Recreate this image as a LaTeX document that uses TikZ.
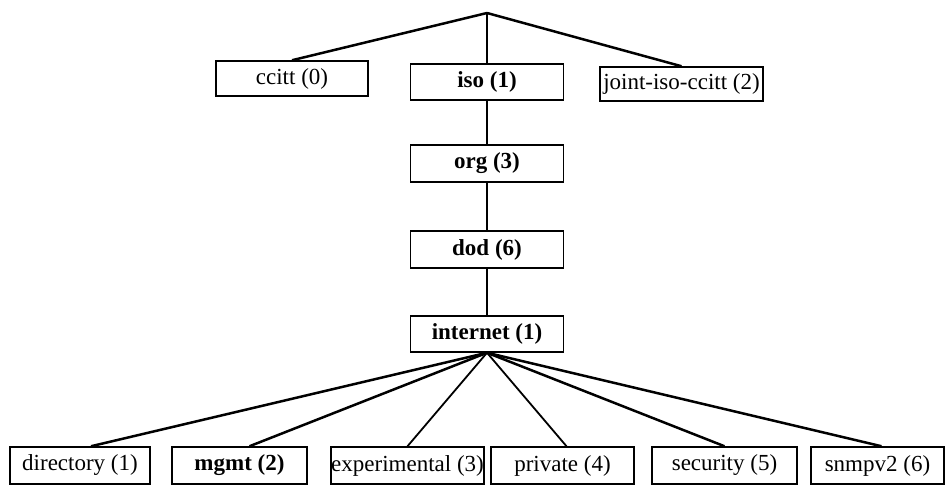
\documentclass[tikz,border=0pt]{standalone}
\usepackage{fontspec}
\setmainfont{Liberation Serif}
\begin{document}
\begin{tikzpicture}[x=1pt,y=-1pt,
  box/.style={draw,line width=1.5pt,inner sep=0pt,font=\fontsize{23}{25}\selectfont},
  bbox/.style={box,font=\fontsize{23}{25}\selectfont\bfseries},
  edge/.style={line width=2.5pt},
  thinedge/.style={line width=1.8pt},
  spine/.style={line width=1.8pt}]
\useasboundingbox (0,0) rectangle (946,486);
\coordinate (root) at (487,13);
% top level
\node[box,minimum width=152pt,minimum height=35pt] (ccitt) at (292,78.5) {ccitt (0)};
\node[bbox,minimum width=153pt,minimum height=36pt] (iso) at (487,82) {iso (1)};
\node[box,minimum width=163pt,minimum height=34pt] (joint) at (681.5,84) {joint-iso-ccitt (2)};
% spine
\node[bbox,minimum width=153pt,minimum height=37pt] (org) at (487,163.5) {org (3)};
\node[bbox,minimum width=153pt,minimum height=37pt] (dod) at (487,249.5) {dod (6)};
\node[bbox,minimum width=153pt,minimum height=36pt] (internet) at (487,334) {internet (1)};
% bottom level
\node[box,minimum width=140pt,minimum height=37pt] (dir) at (80,465.5) {directory (1)};
\node[bbox,minimum width=135pt,minimum height=37pt] (mgmt) at (239.5,465.5) {mgmt (2)};
\node[box,minimum width=150pt,minimum height=37pt] (exp) at (407.5,465.5) {experimental (3)};
\node[box,minimum width=143pt,minimum height=37pt] (priv) at (562.5,465.5) {private (4)};
\node[box,minimum width=145pt,minimum height=37pt] (sec) at (724.5,465.5) {security (5)};
\node[box,minimum width=133pt,minimum height=37pt] (snmp) at (877.5,465.5) {snmpv2 (6)};
% connectors
\draw[edge] (root) -- (ccitt.north);
\draw[spine] (root) -- (iso.north);
\draw[edge] (root) -- (joint.north);
\draw[spine] (iso) -- (org);
\draw[spine] (org) -- (dod);
\draw[spine] (dod) -- (internet);
\draw[edge] (internet.south) -- ([xshift=11pt]dir.north);
\draw[edge] (internet.south) -- ([xshift=10pt]mgmt.north);
\draw[thinedge] (internet.south) -- (exp.north);
\draw[thinedge] (internet.south) -- ([xshift=4pt]priv.north);
\draw[edge] (internet.south) -- (sec.north);
\draw[edge] (internet.south) -- ([xshift=4pt]snmp.north);
\end{tikzpicture}
\end{document}
